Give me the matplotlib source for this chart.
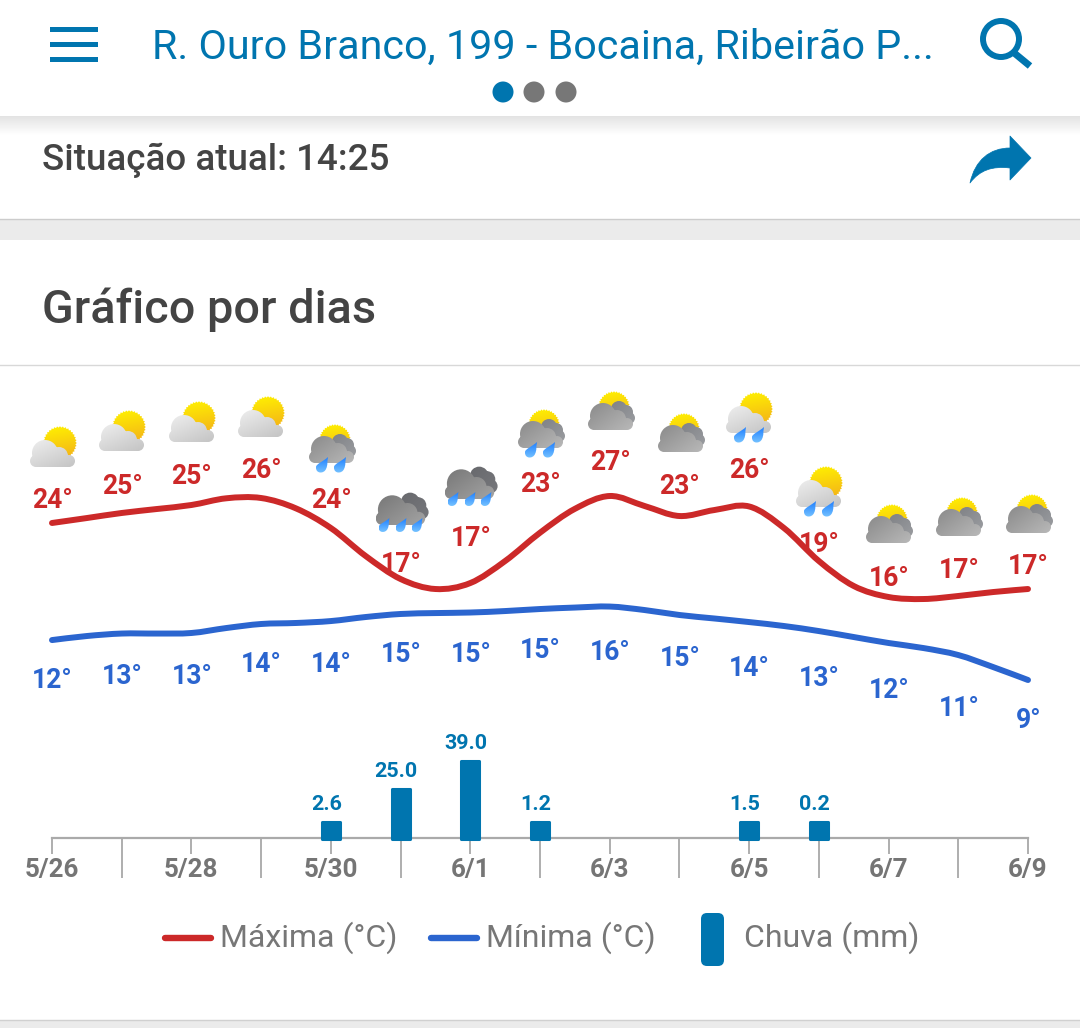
import numpy as np
import matplotlib
matplotlib.use("Agg")
import matplotlib.pyplot as plt
from matplotlib.path import Path
from matplotlib.patches import PathPatch, Circle, FancyBboxPatch, Rectangle
from matplotlib.colors import to_rgb

plt.rcParams['font.family'] = ['Roboto', 'DejaVu Sans']

# data
dates = ["5/26", "5/28", "5/30", "6/1", "6/3", "6/5", "6/7", "6/9"]
max_labels = [24, 25, 25, 26, 24, 17, 17, 23, 27, 23, 26, 19, 16, 17, 17]
min_labels = [12, 13, 13, 14, 14, 15, 15, 15, 16, 15, 14, 13, 12, 11, 9]
rain = [0, 0, 0, 0, 2.6, 25.0, 39.0, 1.2, 0, 0, 1.5, 0.2, 0, 0, 0]
# smoothed curves, one reading every half day
max_curve = [24.06, 24.60, 25.15, 25.58, 26.02, 26.75, 26.78, 25.65, 23.51, 20.46,
             17.96, 16.87, 17.52, 19.92, 23.00, 25.60, 27.00, 25.91, 24.82, 25.47,
             25.86, 23.51, 19.92, 17.20, 16.00, 15.78, 16.11, 16.54, 16.87]
min_curve = [11.31, 11.75, 12.02, 12.02, 12.08, 12.62, 13.06, 13.17, 13.38, 13.82,
             14.15, 14.25, 14.31, 14.47, 14.69, 14.85, 14.96, 14.58, 14.04, 13.66,
             13.27, 12.84, 12.29, 11.64, 10.99, 10.44, 9.68, 8.37, 6.96]
weather = ["A", "A", "A", "A", "B", "C", "C", "B", "D", "D", "E", "E", "D", "D", "D"]

# layout, in pixels of the picture
max_label_y = [498, 483, 474, 468, 498, 562, 535, 482, 460, 483, 468, 542, 575, 567, 563]
min_label_y = [678, 673, 674, 662, 661, 651, 652, 648, 649, 656, 665, 676, 688, 706, 718]
icon_x = [53, 122, 192, 261, 332, 401, 470, 541, 611, 681, 749, 819, 889, 959, 1029]
icon_y = [447, 431, 422, 417, 443, 503, 477, 428, 410, 432, 413, 487, 523, 516, 513]

W, H = 1080, 1028
BLUE = "#0075AF"
RED = "#CC2929"
LINE_BLUE = "#2B65CF"
GREY = "#777777"
DARK = "#444444"

fig = plt.figure(figsize=(W / 100, H / 100), dpi=100, facecolor="white")


def px_axes(left, top, right, bottom, zorder):
    a = fig.add_axes([left / W, 1 - bottom / H, (right - left) / W, (bottom - top) / H], zorder=zorder)
    a.patch.set_alpha(0)
    return a


# page: everything that is not the chart itself
page = px_axes(0, 0, W, H, 1)
page.set_xlim(0, W)
page.set_ylim(H, 0)
page.axis("off")


def gradient(path, c0, c1, angle=45, zorder=2):
    """fill a path with a linear gradient, clipped through imshow"""
    box = path.get_extents()
    n = 32
    yy, xx = np.mgrid[0:1:n * 1j, 0:1:n * 1j]
    t = np.cos(np.radians(angle)) * xx + np.sin(np.radians(angle)) * yy
    t = (t - t.min()) / (t.max() - t.min())
    t = t[..., None]
    img = (1 - t) * np.array(to_rgb(c0)) + t * np.array(to_rgb(c1))
    im = page.imshow(img, extent=(box.x0, box.x1, box.y1, box.y0), origin="upper",
                     aspect="auto", zorder=zorder, interpolation="bilinear")
    im.set_clip_path(PathPatch(path, transform=page.transData))


def blob(cx, cy, lobes, s=1.0, base=None):
    paths = []
    for dx, dy, r in lobes:
        paths.append(Path.circle((cx + dx * s, cy + dy * s), r * s))
    if base:
        x0, y0, x1, y1 = base
        paths.append(Path([(cx + x0 * s, cy + y0 * s), (cx + x1 * s, cy + y0 * s), (cx + x1 * s, cy + y1 * s),
                           (cx + x0 * s, cy + y1 * s), (cx + x0 * s, cy + y0 * s)], closed=True))
    return Path.make_compound_path(*paths)


FRONT = [(-17, 14, 6), (-8, 6, 13), (6, 9, 9), (16, 14, 6)]
BASE = (-17, 10, 16, 20)
BACK = [(8, -1, 8), (15, 2, 7), (18, 8, 6)]


def sun(cx, cy, r):
    a = np.linspace(0, 2 * np.pi, 73)
    rr = np.where(np.arange(73) % 2 == 0, r + 0.8, r - 0.6)
    pts = np.column_stack([cx + rr * np.cos(a), cy + rr * np.sin(a)])
    pts[-1] = pts[0]
    gradient(Path(pts, closed=True), "#FFF200", "#F3AE1B", 80)


def drop(cx, top, s=1.0):
    verts = [(cx + 6 * s, top), (cx + 5 * s, top + 5 * s), (cx + 6 * s, top + 8 * s), (cx + 4 * s, top + 12 * s),
             (cx + 2 * s, top + 17 * s), (cx - 6.5 * s, top + 17 * s), (cx - 6 * s, top + 10 * s),
             (cx - 6 * s, top + 7 * s), (cx + 2 * s, top + 4 * s), (cx + 6 * s, top), (cx + 6 * s, top)]
    codes = [Path.MOVETO] + [Path.CURVE4] * 9 + [Path.CLOSEPOLY]
    gradient(Path(verts, codes), "#1F7FFF", "#74C2FF", 90, zorder=3)


def icon(kind, x, y):
    if kind == "A":
        sun(x + 7, y - 4, 16)
        gradient(blob(x, y, FRONT, base=BASE), "#EEEEEE", "#C4C4C4", 55)
    elif kind == "E":
        sun(x + 7, y - 4, 16)
        gradient(blob(x, y, FRONT, base=BASE), "#EEEEEE", "#C4C4C4", 55)
        drop(x - 9, y + 14)
        drop(x + 9, y + 14)
    elif kind in ("B", "D"):
        sun(x + 3, y - 3, 15)
        gradient(blob(x, y, BACK), "#808286", "#9A9CA0", 45)
        gradient(blob(x, y, FRONT, base=BASE), "#8A8A8A", "#B8B8B8", 40)
        if kind == "B":
            drop(x - 10, y + 14)
            drop(x + 8, y + 14)
    else:
        gradient(blob(x, y, BACK, 1.15), "#68696D", "#77787C", 45)
        gradient(blob(x, y, FRONT, 1.1, base=BASE), "#777777", "#A4A4A4", 40)
        drop(x - 17, y + 15, 0.9)
        drop(x, y + 15, 0.9)
        drop(x + 16, y + 15, 0.9)


def txt(x, y, s, size, color, weight="normal", ha="center"):
    page.text(x, y, s, fontsize=size * 0.72, color=color, fontweight=weight, ha=ha, va="center_baseline", zorder=4)


# header
for y in (29, 44, 59):
    page.add_patch(Rectangle((50, y - 2.5), 48, 5, color=BLUE, lw=0))
txt(152, 43.5, "R. Ouro Branco, 199 - Bocaina, Ribeirão P...", 41.2, BLUE, ha="left")
for x, c in zip((503, 534, 566), (BLUE, GREY, GREY)):
    page.add_patch(Circle((x, 92), 10.5, color=c, lw=0))
page.add_patch(Circle((1001, 39), 18, fill=False, ec=BLUE, lw=4.3))
page.plot([1013, 1030], [52, 66], color=BLUE, lw=5, solid_capstyle="butt")

# shadow under the header
shade = np.linspace(0.89, 1, 20)[:, None]
page.imshow(shade, extent=(0, W, 136, 116), cmap="gray", vmin=0, vmax=1, aspect="auto", zorder=1)

txt(42, 156, "Situação atual: 14:25", 36.7, DARK, "medium", ha="left")
share = Path([(970, 183), (975, 160), (990, 148), (1010, 148), (1010, 136), (1031, 158), (1010, 180), (1010, 168),
              (992, 166), (980, 170), (970, 183), (970, 183)],
             [Path.MOVETO, Path.CURVE4, Path.CURVE4, Path.CURVE4, Path.LINETO, Path.LINETO, Path.LINETO, Path.LINETO,
              Path.CURVE4, Path.CURVE4, Path.CURVE4, Path.CLOSEPOLY])
page.add_patch(PathPatch(share, fc=BLUE, ec=BLUE, lw=0.5, joinstyle="round"))

# section bands
page.add_patch(Rectangle((0, 219), W, 21, color="#EBEBEB", lw=0))
page.plot([0, W], [218.5, 218.5], color="#CCCCCC", lw=1)
page.plot([0, W], [365, 365], color="#D8D8D8", lw=1)
page.add_patch(Rectangle((0, 1020), W, 8, color="#EBEBEB", lw=0))
page.plot([0, W], [1019.5, 1019.5], color="#D0D0D0", lw=1)
txt(42, 305, "Gráfico por dias", 46.8, DARK, "medium", ha="left")

# weather icons and temperature labels
for i, kind in enumerate(weather):
    icon(kind, icon_x[i], icon_y[i])
days = np.arange(15)
X0, X1 = 52, 1028
px_per_day = (X1 - X0) / 14.0
for i in days:
    x = X0 + i * px_per_day + 0.5
    txt(x, max_label_y[i], "%d°" % max_labels[i], 26.5, RED, "bold")
    txt(x, min_label_y[i], "%d°" % min_labels[i], 26.5, LINE_BLUE, "bold")

# temperature curves: 27 deg at y=496, 16 deg at y=597
temp_ax = px_axes(X0, 496, X1, 597, 2)
temp_ax.set_xlim(0, 14)
temp_ax.set_ylim(16, 27)
temp_ax.axis("off")


def smooth_path(xs, ys):
    pts = np.column_stack([xs, ys])
    verts = [pts[0]]
    codes = [Path.MOVETO]
    for k in range(len(pts) - 1):
        p0 = pts[max(k - 1, 0)]
        p1 = pts[k]
        p2 = pts[k + 1]
        p3 = pts[min(k + 2, len(pts) - 1)]
        verts += [p1 + (p2 - p0) / 6, p2 - (p3 - p1) / 6, p2]
        codes += [Path.CURVE4] * 3
    return Path(verts, codes)


half_days = np.arange(29) / 2
for curve, col in ((max_curve, RED), (min_curve, LINE_BLUE)):
    temp_ax.add_patch(PathPatch(smooth_path(half_days, curve), fill=False, ec=col, lw=4.3,
                                capstyle="round", joinstyle="round", clip_on=False))

# rain bars and date axis, about 2 px per mm, shorter bars keep a minimum height
rain_ax = px_axes(X0, 740, X1, 838, 3)
rain_ax.set_xlim(0, 14)
rain_ax.set_ylim(0, 98 / 1.97)
MIN_BAR = 8.1
BELOW = 0.7
wet = [d for d, v in zip(days, rain) if v > 0]
wet_vals = [v for v in rain if v > 0]
shown = [max(v, MIN_BAR) for v in wet_vals]
bars = rain_ax.bar(wet, [h + BELOW for h in shown], bottom=-BELOW, width=18 / px_per_day, color=BLUE,
                   edgecolor=BLUE, linewidth=2.2, joinstyle="round", zorder=3)
for b, v, h in zip(bars, wet_vals, shown):
    b.set_clip_on(False)
    rain_ax.annotate("%.1f" % v, (b.get_x() + b.get_width() / 2, h), xytext=(-4.5, 8), textcoords="offset pixels",
                     ha="center", va="bottom", fontsize=21.5 * 0.72, color=BLUE, fontweight="bold")

for s in ("top", "left", "right"):
    rain_ax.spines[s].set_visible(False)
rain_ax.spines["bottom"].set_color("#AAAAAA")
rain_ax.spines["bottom"].set_linewidth(1.6)
rain_ax.set_yticks([])
rain_ax.set_xticks(days[::2], dates)
rain_ax.set_xticks(days[1::2], minor=True)
rain_ax.tick_params(axis="x", which="major", length=11.5, width=1.1, color="#999999", labelcolor="#757575",
                    labelsize=26 * 0.72, pad=3)
rain_ax.tick_params(axis="x", which="minor", length=29, width=1.1, color="#999999")
for lab in rain_ax.get_xticklabels():
    lab.set_fontweight("bold")

# legend
page.plot([165, 211], [938, 938], color=RED, lw=4.6, solid_capstyle="round")
txt(219.5, 934.5, "Máxima (°C)", 32, GREY, ha="left")
page.plot([431, 477], [938, 938], color=LINE_BLUE, lw=4.6, solid_capstyle="round")
txt(485.5, 934.5, "Mínima (°C)", 32, GREY, ha="left")
page.add_patch(FancyBboxPatch((705, 917), 15, 45, boxstyle="round,pad=4,rounding_size=6", fc=BLUE, ec="none"))
txt(744.5, 934.5, "Chuva (mm)", 32, GREY, ha="left")

fig.savefig("out.png", dpi=100)
